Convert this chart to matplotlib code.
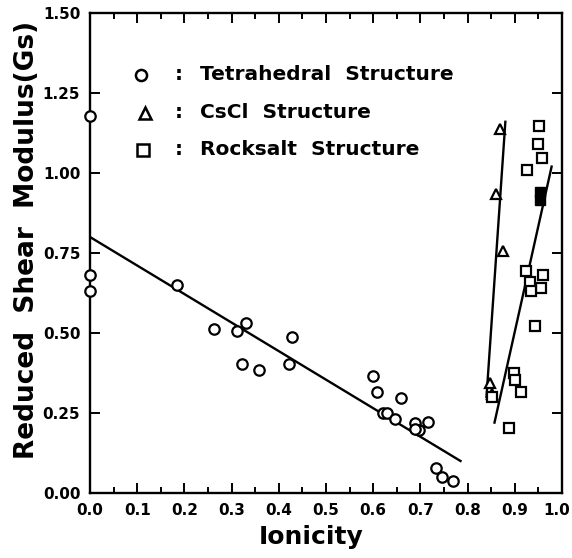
import matplotlib

matplotlib.use("Agg")
import matplotlib.pyplot as plt
from matplotlib.ticker import MultipleLocator, FuncFormatter

plt.rcParams["font.family"] = ["DejaVu Sans"]
plt.rcParams["font.weight"] = "bold"

# tetrahedral structure (circles)
tetra_x = [0.0, 0.0, 0.0, 0.184, 0.263, 0.311, 0.330, 0.322, 0.359, 0.428, 0.422,
           0.600, 0.609, 0.659, 0.621, 0.629, 0.647, 0.689, 0.698, 0.688, 0.717,
           0.733, 0.745, 0.770]
tetra_y = [1.178, 0.682, 0.632, 0.651, 0.513, 0.505, 0.531, 0.404, 0.383, 0.486, 0.403,
           0.366, 0.317, 0.296, 0.251, 0.250, 0.231, 0.218, 0.197, 0.200, 0.222,
           0.077, 0.050, 0.038]

# CsCl structure (triangles)
cscl_x = [0.869, 0.860, 0.876, 0.847, 0.852]
cscl_y = [1.137, 0.933, 0.756, 0.345, 0.310]

# rocksalt structure (squares)
rock_x = [0.951, 0.950, 0.957, 0.926, 0.924, 0.959, 0.932, 0.956, 0.934, 0.943,
          0.899, 0.900, 0.913, 0.888, 0.851]
rock_y = [1.147, 1.090, 1.048, 1.009, 0.693, 0.680, 0.659, 0.641, 0.630, 0.521,
          0.375, 0.354, 0.315, 0.203, 0.300]
rock_filled_x = [0.953, 0.953]
rock_filled_y = [0.940, 0.915]

# fitted lines (end points)
tetra_fit_x = [0.0, 0.785]
tetra_fit_y = [0.80, 0.10]
cscl_fit_x = [0.840, 0.880]
cscl_fit_y = [0.30, 1.16]
rock_fit_x = [0.857, 0.978]
rock_fit_y = [0.22, 1.02]

legend_labels = ["Tetrahedral  Structure", "CsCl  Structure", "Rocksalt  Structure"]

fig = plt.figure(figsize=(5.72, 5.58), dpi=100)
ax = fig.add_axes([90 / 572, 65 / 558, 472 / 572, 480 / 558])

ax.plot(tetra_fit_x, tetra_fit_y, color="black", lw=1.7)
ax.plot(cscl_fit_x, cscl_fit_y, color="black", lw=1.7)
ax.plot(rock_fit_x, rock_fit_y, color="black", lw=1.7)

mk = dict(linestyle="none", color="black", mfc="white", mew=1.6, clip_on=False, zorder=3)
ax.plot(tetra_x, tetra_y, marker="o", ms=7.5, **mk)
ax.plot(cscl_x, cscl_y, marker="^", ms=7.5, **mk)
ax.plot(rock_x, rock_y, marker="s", ms=7, **mk)
ax.plot(rock_filled_x, rock_filled_y, marker="s", ms=7, linestyle="none",
        color="black", zorder=3)

# hand-made key as in the original
key_markers = ["o", "^", "s"]
key_x = [0.107, 0.117, 0.113]
key_y = [0.871, 0.792, 0.715]
for m, x, y, label in zip(key_markers, key_x, key_y, legend_labels):
    ax.plot([x], [y], marker=m, ms=8, mew=1.8, color="black", mfc="white",
            linestyle="none", transform=ax.transAxes)
    ax.text(0.1875, y, ":", transform=ax.transAxes, ha="center", va="center",
            fontsize=14.5, fontweight="bold")
    ax.text(0.233, y, label, transform=ax.transAxes, ha="left", va="center",
            fontsize=14.5, fontweight="bold")

ax.set_xlim(0, 1.0)
ax.set_ylim(0, 1.5)
ax.xaxis.set_major_locator(MultipleLocator(0.1))
ax.xaxis.set_minor_locator(MultipleLocator(0.05))
ax.yaxis.set_major_locator(MultipleLocator(0.25))
# last x label is drawn separately so it stays inside the picture
ax.xaxis.set_major_formatter(FuncFormatter(lambda v, p: "" if v > 0.99 else f"{v:.1f}"))
ax.yaxis.set_major_formatter(FuncFormatter(lambda v, p: f"{v:.2f}"))

ax.tick_params(which="both", direction="in", top=True, right=True, width=1.4)
ax.tick_params(which="major", length=7, labelsize=11, pad=7)
ax.tick_params(which="minor", length=4)
for sp in ax.spines.values():
    sp.set_linewidth(1.7)

ax.annotate("1.0", xy=(1.0, 0), xycoords=("data", "axes fraction"),
            xytext=(-4, -7), textcoords="offset points", ha="center", va="top",
            fontsize=11, fontweight="bold", annotation_clip=False)

ax.set_xlabel("Ionicity", fontsize=18, fontweight="bold")
ax.xaxis.set_label_coords(0.468, -0.066)
ax.set_ylabel("Reduced  Shear  Modulus(Gs)", fontsize=19, fontweight="bold")
ax.yaxis.set_label_coords(-0.106, 0.528)

fig.savefig("out.png", dpi=100)
